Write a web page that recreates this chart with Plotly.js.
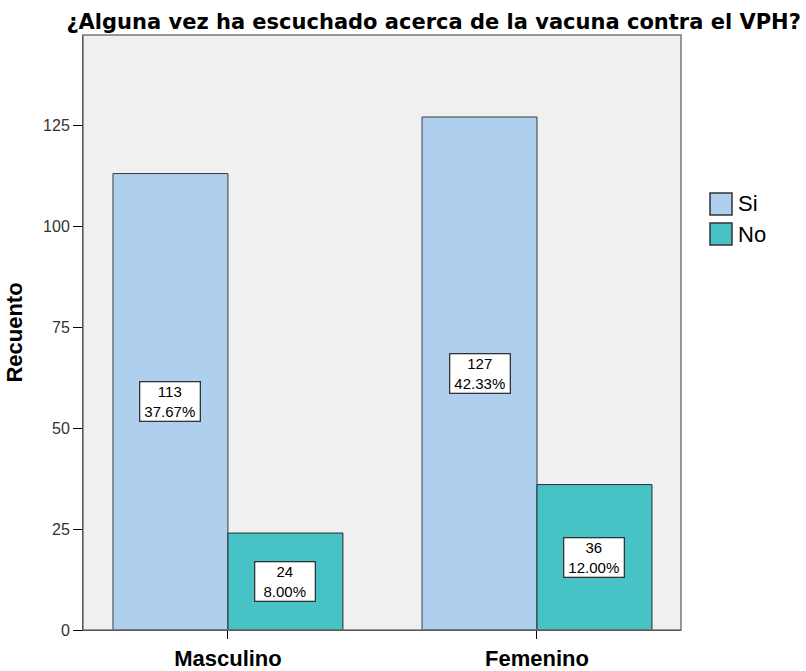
<!DOCTYPE html>
<html>
<head>
<meta charset="utf-8">
<script src="https://cdn.plot.ly/plotly-3.0.1.min.js"></script>
<style>html,body{margin:0;padding:0;background:#fff;}#chart{width:806px;height:671px;}</style>
</head>
<body>
<div id="chart"></div>
<script>
const categories = ['Masculino', 'Femenino'];
const seriesNames = ['Si', 'No'];
const siValues = [113, 127];
const noValues = [24, 36];
const siPercents = ['37.67%', '42.33%'];
const noPercents = ['8.00%', '12.00%'];
const yTickValues = [0, 25, 50, 75, 100, 125];

const bargap = 0.256;
const half = (1 - bargap) / 4;
const colors = ['#aed0ee', '#47c2c5'];
const font = 'Arial, "Liberation Sans", sans-serif';

const traces = [
  {type: 'bar', name: seriesNames[0], x: categories, y: siValues,
   marker: {color: colors[0], line: {color: '#3a3a3a', width: 1}}, hoverinfo: 'none'},
  {type: 'bar', name: seriesNames[1], x: categories, y: noValues,
   marker: {color: colors[1], line: {color: '#2a2a2a', width: 1}}, hoverinfo: 'none'}
];

const annotations = [];
const labelBox = {showarrow: false, bgcolor: '#ffffff', bordercolor: '#333', borderwidth: 1.3,
  borderpad: 1, width: 57, font: {family: font, size: 15, color: '#000'}};
categories.forEach((c, i) => {
  annotations.push(Object.assign({x: i - half, y: siValues[i] / 2, xref: 'x', yref: 'y',
    text: siValues[i] + '<br>' + siPercents[i]}, labelBox));
  annotations.push(Object.assign({x: i + half, y: noValues[i] / 2, xref: 'x', yref: 'y',
    text: noValues[i] + '<br>' + noPercents[i]}, labelBox));
});

// custom legend (large swatches like the reference)
const shapes = [{type: 'rect', xref: 'paper', yref: 'paper', x0: 0, x1: 1, y0: 0, y1: 1,
  line: {color: '#777', width: 1.5}, fillcolor: 'rgba(0,0,0,0)', layer: 'above'}];
const legX0 = 1.0485, legX1 = 1.0853, legTop = 0.7345, legSize = 0.037, legStep = 0.0505;
seriesNames.forEach((name, k) => {
  const y1 = legTop - k * legStep;
  shapes.push({type: 'rect', xref: 'paper', yref: 'paper', x0: legX0, x1: legX1,
    y0: y1 - legSize, y1: y1, fillcolor: colors[k], line: {color: '#333', width: 1.5}});
  annotations.push({xref: 'paper', yref: 'paper', x: legX1 + 0.006, y: y1 - legSize / 2,
    xanchor: 'left', yanchor: 'middle', showarrow: false, text: name,
    font: {family: font, size: 22, color: '#000'}});
});

const layout = {
  width: 806, height: 671,
  margin: {l: 83, r: 125, t: 35, b: 41},
  paper_bgcolor: '#ffffff', plot_bgcolor: '#f0f0f0',
  font: {family: font, color: '#000'},
  showlegend: false,
  title: {text: '<b>¿Alguna vez ha escuchado acerca de la vacuna contra el VPH?</b>',
    font: {family: '"DejaVu Sans", Arial, sans-serif', size: 21, color: '#000'},
    xref: 'container', yref: 'container', x: 0.538, xanchor: 'center', y: 0.968, yanchor: 'middle'},
  barmode: 'group', bargap: bargap, bargroupgap: 0,
  xaxis: {type: 'category', range: [-0.469, 1.466], showgrid: false, zeroline: false,
    showline: true, linecolor: '#000', linewidth: 1, ticks: 'outside', ticklen: 8, tickcolor: '#000',
    ticklabelstandoff: 1,
    tickfont: {family: font, size: 22, color: '#000', weight: 'bold'}},
  yaxis: {range: [0, 147.3], tickvals: yTickValues, showgrid: false, zeroline: false,
    showline: true, linecolor: '#000', linewidth: 1, ticks: 'outside', ticklen: 9, tickcolor: '#000',
    tickfont: {family: font, size: 16, color: '#333'},
    title: {text: '<b>Recuento</b>', font: {family: font, size: 22, color: '#000'}, standoff: 14}},
  annotations: annotations,
  shapes: shapes
};

Plotly.newPlot('chart', traces, layout, {displayModeBar: false, staticPlot: true});
</script>
</body>
</html>
